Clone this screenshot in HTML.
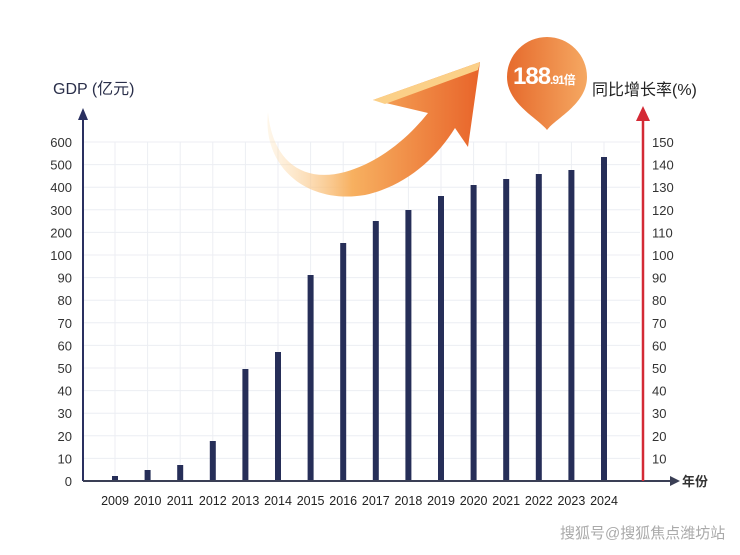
<!DOCTYPE html>
<html><head><meta charset="utf-8"><style>
html,body{margin:0;padding:0;background:#fff;}
svg text{font-family:"Liberation Sans","Noto Sans CJK SC",sans-serif;}
</style></head><body>
<svg width="740" height="550" viewBox="0 0 740 550" xmlns="http://www.w3.org/2000/svg">
<defs>
<linearGradient id="ag" x1="0" y1="0" x2="1" y2="0">
<stop offset="0" stop-color="#fde2b8" stop-opacity="0.3"/>
<stop offset="0.4" stop-color="#f7b060"/>
<stop offset="1" stop-color="#e8642a"/>
</linearGradient>
<linearGradient id="pg" x1="0" y1="0" x2="1" y2="0">
<stop offset="0" stop-color="#e66a2c"/>
<stop offset="1" stop-color="#f5a862"/>
</linearGradient>
</defs>
<g stroke="#eceef3" stroke-width="1">
<line x1="84" y1="142" x2="640" y2="142"/><line x1="84" y1="164.6" x2="640" y2="164.6"/><line x1="84" y1="187.2" x2="640" y2="187.2"/><line x1="84" y1="209.8" x2="640" y2="209.8"/><line x1="84" y1="232.4" x2="640" y2="232.4"/><line x1="84" y1="255" x2="640" y2="255"/><line x1="84" y1="277.6" x2="640" y2="277.6"/><line x1="84" y1="300.2" x2="640" y2="300.2"/><line x1="84" y1="322.8" x2="640" y2="322.8"/><line x1="84" y1="345.4" x2="640" y2="345.4"/><line x1="84" y1="368" x2="640" y2="368"/><line x1="84" y1="390.6" x2="640" y2="390.6"/><line x1="84" y1="413.2" x2="640" y2="413.2"/><line x1="84" y1="435.8" x2="640" y2="435.8"/><line x1="84" y1="458.4" x2="640" y2="458.4"/>
<line x1="115" y1="142" x2="115" y2="481"/><line x1="147.6" y1="142" x2="147.6" y2="481"/><line x1="180.2" y1="142" x2="180.2" y2="481"/><line x1="212.8" y1="142" x2="212.8" y2="481"/><line x1="245.4" y1="142" x2="245.4" y2="481"/><line x1="278" y1="142" x2="278" y2="481"/><line x1="310.6" y1="142" x2="310.6" y2="481"/><line x1="343.2" y1="142" x2="343.2" y2="481"/><line x1="375.8" y1="142" x2="375.8" y2="481"/><line x1="408.4" y1="142" x2="408.4" y2="481"/><line x1="441" y1="142" x2="441" y2="481"/><line x1="473.6" y1="142" x2="473.6" y2="481"/><line x1="506.2" y1="142" x2="506.2" y2="481"/><line x1="538.8" y1="142" x2="538.8" y2="481"/><line x1="571.4" y1="142" x2="571.4" y2="481"/><line x1="604" y1="142" x2="604" y2="481"/>
</g>
<path d="M268,112 C262,165 305,205 365,195 C405,186 435,160 455,128 L468,147 L480,62 L373,100 L428,113 C408,138 380,162 345,172 C300,184 272,158 268,112 Z" fill="url(#ag)"/>
<path d="M373,100 L480,62 L478,70 L385,104 Z" fill="#fbd088"/>
<g fill="#262e58">
<rect x="112" y="476" width="6" height="5"/><rect x="144.6" y="470" width="6" height="11"/><rect x="177.2" y="465" width="6" height="16"/><rect x="209.8" y="441" width="6" height="40"/><rect x="242.4" y="369" width="6" height="112"/><rect x="275" y="352" width="6" height="129"/><rect x="307.6" y="275" width="6" height="206"/><rect x="340.2" y="243" width="6" height="238"/><rect x="372.8" y="221" width="6" height="260"/><rect x="405.4" y="210" width="6" height="271"/><rect x="438" y="196" width="6" height="285"/><rect x="470.6" y="185" width="6" height="296"/><rect x="503.2" y="179" width="6" height="302"/><rect x="535.8" y="174" width="6" height="307"/><rect x="568.4" y="170" width="6" height="311"/><rect x="601" y="157" width="6" height="324"/>
</g>
<line x1="83" y1="481" x2="83" y2="118" stroke="#2a3060" stroke-width="2"/>
<path d="M83,108 L78,120 L88,120 Z" fill="#2a3060"/>
<line x1="83" y1="481" x2="672" y2="481" stroke="#3a3f55" stroke-width="2"/>
<path d="M680,481 L670,476 L670,486 Z" fill="#3a3f55"/>
<line x1="643" y1="481" x2="643" y2="120" stroke="#d42a35" stroke-width="2.5"/>
<path d="M643,106 L636,121 L650,121 Z" fill="#d42a35"/>
<g font-size="13" fill="#333" text-anchor="end">
<text x="72" y="147">600</text><text x="72" y="169.6">500</text><text x="72" y="192.2">400</text><text x="72" y="214.8">300</text><text x="72" y="237.4">200</text><text x="72" y="260">100</text><text x="72" y="282.6">90</text><text x="72" y="305.2">80</text><text x="72" y="327.8">70</text><text x="72" y="350.4">60</text><text x="72" y="373">50</text><text x="72" y="395.6">40</text><text x="72" y="418.2">30</text><text x="72" y="440.8">20</text><text x="72" y="463.4">10</text><text x="72" y="486">0</text>
</g>
<g font-size="13" fill="#333">
<text x="652" y="147">150</text><text x="652" y="169.6">140</text><text x="652" y="192.2">130</text><text x="652" y="214.8">120</text><text x="652" y="237.4">110</text><text x="652" y="260">100</text><text x="652" y="282.6">90</text><text x="652" y="305.2">80</text><text x="652" y="327.8">70</text><text x="652" y="350.4">60</text><text x="652" y="373">50</text><text x="652" y="395.6">40</text><text x="652" y="418.2">30</text><text x="652" y="440.8">20</text><text x="652" y="463.4">10</text>
<text x="682" y="486" font-weight="bold" font-size="13">年份</text>
</g>
<g font-size="12.5" fill="#222" text-anchor="middle">
<text x="115" y="505">2009</text><text x="147.6" y="505">2010</text><text x="180.2" y="505">2011</text><text x="212.8" y="505">2012</text><text x="245.4" y="505">2013</text><text x="278" y="505">2014</text><text x="310.6" y="505">2015</text><text x="343.2" y="505">2016</text><text x="375.8" y="505">2017</text><text x="408.4" y="505">2018</text><text x="441" y="505">2019</text><text x="473.6" y="505">2020</text><text x="506.2" y="505">2021</text><text x="538.8" y="505">2022</text><text x="571.4" y="505">2023</text><text x="604" y="505">2024</text>
</g>
<text x="53" y="94" font-size="16" fill="#2a2f4a">GDP (亿元)</text>
<text x="592" y="95" font-size="16" fill="#222">同比增长率(%)</text>
<path d="M547,130 C538,118 507,104 507,77 A40,40 0 1 1 587,77 C587,104 556,118 547,130 Z" fill="url(#pg)"/>
<text x="513" y="84" font-size="24" fill="#fff" font-weight="bold" letter-spacing="-1">188<tspan font-size="12">.91倍</tspan></text>
<text x="560" y="538" font-size="15" fill="#aaa">搜狐号@搜狐焦点潍坊站</text>
</svg>
</body></html>
